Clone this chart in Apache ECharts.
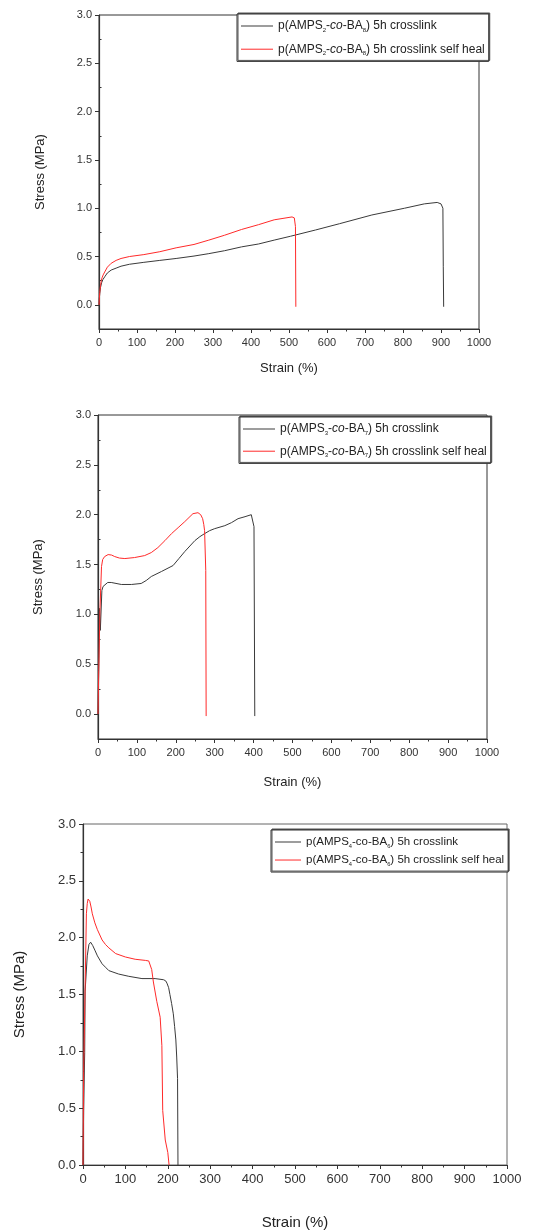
<!DOCTYPE html>
<html lang="en">
<head>
    <meta charset="utf-8">
    <title>Stress-strain curves</title>
    <script src="https://cdn.jsdelivr.net/npm/echarts@6/dist/echarts.min.js"></script>
    <style>
        html, body {margin: 0; padding: 0; background: #fff;}
        #main {width: 534px; height: 1231px;}
    </style>
</head>
<body>
<div id="main"></div>
<script>
    // 数据: [strain %, stress MPa]
    var p1Cross = [[0, 0], [1, 0.07], [2, 0.12], [4, 0.18], [7, 0.23], [10, 0.26], [15, 0.29], [22, 0.33], [32, 0.36],
        [45, 0.38], [58, 0.40], [80, 0.42], [118, 0.44], [160, 0.46], [203, 0.48], [250, 0.505], [289, 0.53],
        [330, 0.56], [375, 0.60], [420, 0.63], [461, 0.67], [504, 0.71], [570, 0.775], [633, 0.84], [718, 0.93],
        [804, 1.0], [856, 1.045], [890, 1.06], [900, 1.045], [905, 1.0], [906, 0.40], [907, -0.02]];
    var p1Heal = [[0, 0], [1, 0.07], [2, 0.13], [4, 0.2], [6, 0.25], [8, 0.28], [11, 0.31], [15, 0.34], [22, 0.39],
        [32, 0.43], [45, 0.46], [58, 0.48], [80, 0.50], [118, 0.52], [160, 0.55], [203, 0.59], [250, 0.625],
        [289, 0.67], [330, 0.72], [375, 0.78], [420, 0.83], [461, 0.88], [508, 0.91], [514, 0.90], [517, 0.81],
        [518, -0.02]];

    var p2Cross = [[0, 0], [2, 0.51], [4, 1.06], [6, 0.84], [10, 1.24], [13, 1.28], [17, 1.30], [25, 1.32], [34, 1.32],
        [60, 1.30], [86, 1.30], [111, 1.31], [124, 1.34], [137, 1.38], [163, 1.43], [193, 1.49], [208, 1.56],
        [223, 1.63], [249, 1.74], [262, 1.78], [274, 1.81], [287, 1.84], [300, 1.86], [326, 1.89], [343, 1.92],
        [360, 1.96], [378, 1.98], [394, 2.00], [398, 1.98], [401, 1.88], [403, -0.02]];
    var p2Heal = [[0, 0], [2, 0.44], [5, 1.04], [9, 1.48], [12, 1.55], [17, 1.58], [26, 1.60], [35, 1.595], [43, 1.58],
        [55, 1.565], [69, 1.56], [94, 1.57], [120, 1.59], [137, 1.62], [154, 1.67], [172, 1.74], [189, 1.81],
        [206, 1.87], [223, 1.93], [244, 2.01], [257, 2.02], [264, 2.00], [269, 1.96], [272, 1.90], [274, 1.84],
        [277, 1.44], [278, -0.02]];

    var p3Cross = [[0, 0], [1.5, 0.48], [4, 0.99], [5, 1.53], [10, 1.84], [14, 1.94], [18, 1.96], [20, 1.96], [23, 1.93],
        [28, 1.89], [34, 1.84], [45, 1.77], [53, 1.74], [61, 1.71], [84, 1.68], [108, 1.66], [139, 1.64], [170, 1.64],
        [190, 1.63], [195, 1.62], [198, 1.60], [202, 1.56], [205, 1.50], [209, 1.42], [213, 1.33], [216, 1.22],
        [219, 1.10], [221, 0.95], [223, 0.76], [224, 0.0]];
    var p3Heal = [[0, 0], [1.5, 0.82], [5, 1.56], [8, 2.21], [10, 2.30], [12, 2.34], [14, 2.34], [16, 2.32], [19, 2.27],
        [22, 2.21], [28, 2.13], [34, 2.07], [45, 1.98], [53, 1.94], [61, 1.91], [77, 1.86], [100, 1.83], [123, 1.81],
        [147, 1.80], [155, 1.795], [159, 1.78], [162, 1.72], [166, 1.61], [174, 1.44], [182, 1.30], [186, 1.05],
        [188, 0.48], [194, 0.22], [200, 0.11], [203, 0.0]];

    // 刻度
    var yMajorTicks = [0, 0.5, 1.0, 1.5, 2.0, 2.5, 3.0];
    var yMinorTicks = [0.25, 0.75, 1.25, 1.75, 2.25, 2.75];

    // 图例文字: [前缀, 下标1, 中间, 下标2, 后缀]
    var legend1 = [['p(AMPS', '2', 'BA', '8', ') 5h crosslink'], ['p(AMPS', '2', 'BA', '8', ') 5h crosslink self heal']];
    var legend2 = [['p(AMPS', '3', 'BA', '7', ') 5h crosslink'], ['p(AMPS', '3', 'BA', '7', ') 5h crosslink self heal']];
    var legend3 = [['p(AMPS', '4', 'BA', '6', ') 5h crosslink'], ['p(AMPS', '4', 'BA', '6', ') 5h crosslink self heal']];

    var FONT = 'Liberation Sans, Arial, sans-serif';
    var BLACK = '#3a3a3a', RED = '#ff2a2a';

    function legendName(parts, italic) {
        return parts[0] + parts[1] + '-co-' + parts[2] + parts[3] + parts[4] + (italic ? '' : ' ');
    }

    function legendText(parts, italic) {
        return '{t|' + parts[0] + '}{s|' + parts[1] + '}{t|-}{' + (italic ? 'i' : 't') + '|co}{t|-' + parts[2] +
            '}{s|' + parts[3] + '}{t|' + parts[4] + '}';
    }

    function makeLegend(parts, italic, pos, fs, gap, iw) {
        var names = [legendName(parts[0], italic), legendName(parts[1], italic)];
        return {
            data: names,
            orient: 'vertical',
            left: pos[0],
            top: pos[1],
            icon: 'rect',
            itemWidth: iw,
            itemHeight: 1,
            itemGap: gap,
            padding: [6, 4, 5, 4],
            selectedMode: false,
            borderColor: '#333',
            borderWidth: 1,
            backgroundColor: '#fff',
            shadowColor: '#555',
            shadowBlur: 0,
            shadowOffsetX: 1,
            shadowOffsetY: -1,
            formatter: function (name) {
                var i = names.indexOf(name);
                return legendText(parts[i], italic);
            },
            textStyle: {
                fontFamily: FONT,
                color: '#222',
                rich: {
                    t: {fontSize: fs, fontFamily: FONT, color: '#222'},
                    i: {fontSize: fs, fontFamily: FONT, color: '#222', fontStyle: 'italic'},
                    s: {fontSize: fs * 0.5, fontFamily: FONT, color: '#222', padding: [fs * 0.7, 0, 0, 0]}
                }
            }
        };
    }

    function plain(v) { return String(v); }

    function xAxis(grid, fs, nameFs, gap) {
        return {
            type: 'value', gridIndex: grid, min: 0, max: 1000, interval: 100,
            name: 'Strain (%)', nameLocation: 'middle', nameGap: gap,
            nameTextStyle: {fontFamily: FONT, fontSize: nameFs, color: '#222'},
            axisLine: {show: true, onZero: false, lineStyle: {color: '#333', width: 1.2}},
            axisTick: {show: true, length: 4, lineStyle: {color: '#333'}},
            minorTick: {show: true, splitNumber: 2, length: 2.5, lineStyle: {color: '#333'}},
            axisLabel: {fontFamily: FONT, fontSize: fs, color: '#333', margin: 8, formatter: plain},
            splitLine: {show: false}
        };
    }

    function yMajor(grid, min, fs, nameFs, gap) {
        return {
            type: 'value', gridIndex: grid, min: min, max: 3.0,
            name: 'Stress (MPa)', nameLocation: 'middle', nameGap: gap,
            nameTextStyle: {fontFamily: FONT, fontSize: nameFs, color: '#222'},
            axisLine: {show: true, onZero: false, lineStyle: {color: '#333', width: 1.2}},
            axisTick: {show: true, length: 4, customValues: yMajorTicks, lineStyle: {color: '#333'}},
            axisLabel: {
                fontFamily: FONT, fontSize: fs, color: '#333', margin: 7, customValues: yMajorTicks,
                formatter: function (v) { return v.toFixed(1); }
            },
            splitLine: {show: false}
        };
    }

    function yMinor(grid, min) {
        return {
            type: 'value', gridIndex: grid, min: min, max: 3.0,
            axisLine: {show: false},
            axisTick: {show: true, length: 2.5, customValues: yMinorTicks, lineStyle: {color: '#333'}},
            axisLabel: {show: false},
            splitLine: {show: false}
        };
    }

    function line(name, data, color, xi, yi) {
        return {
            name: name, type: 'line', data: data, xAxisIndex: xi, yAxisIndex: yi,
            symbol: 'none', smooth: false, color: color,
            lineStyle: {color: color, width: 1}, animation: false
        };
    }

    var chart = echarts.init(document.getElementById('main'), null, {renderer: 'canvas'});

    var gridStyle = {show: true, borderColor: '#333', borderWidth: 1, backgroundColor: 'transparent'};

    var option = {
        backgroundColor: '#fff',
        animation: false,
        grid: [
            Object.assign({left: 99, top: 15, width: 380, height: 314}, gridStyle),
            Object.assign({left: 98, top: 415, width: 389, height: 324}, gridStyle),
            Object.assign({left: 83, top: 824, width: 424, height: 344}, gridStyle, {borderColor: '#666'})
        ],
        xAxis: [
            xAxis(0, 11, 13, 33),
            xAxis(1, 11, 13, 37),
            xAxis(2, 13, 15, 50)
        ],
        yAxis: [
            yMajor(0, -0.25, 11, 13, 52),
            yMinor(0, -0.25),
            yMajor(1, -0.25, 11, 13, 53),
            yMinor(1, -0.25),
            {
                type: 'value', gridIndex: 2, min: 0, max: 3.0, interval: 0.5,
                name: 'Stress (MPa)', nameLocation: 'middle', nameGap: 56,
                nameTextStyle: {fontFamily: FONT, fontSize: 15, color: '#222'},
                axisLine: {show: true, lineStyle: {color: '#333', width: 1.2}},
                axisTick: {show: true, length: 4, lineStyle: {color: '#333'}},
                minorTick: {show: true, splitNumber: 2, length: 2.5, lineStyle: {color: '#333'}},
                axisLabel: {
                    fontFamily: FONT, fontSize: 13, color: '#333', margin: 7,
                    formatter: function (v) { return v.toFixed(1); }
                },
                splitLine: {show: false}
            }
        ],
        legend: [
            makeLegend(legend1, true, [237, 14], 12, 10, 32),
            makeLegend(legend2, true, [239, 417], 12, 9, 32),
            makeLegend(legend3, false, [271, 830], 11.5, 5, 26)
        ],
        series: [
            line(legendName(legend1[0], true), p1Cross, BLACK, 0, 0),
            line(legendName(legend1[1], true), p1Heal, RED, 0, 0),
            line(legendName(legend2[0], true), p2Cross, BLACK, 1, 2),
            line(legendName(legend2[1], true), p2Heal, RED, 1, 2),
            line(legendName(legend3[0], false), p3Cross, BLACK, 2, 4),
            line(legendName(legend3[1], false), p3Heal, RED, 2, 4)
        ]
    };

    chart.setOption(option);
</script>
</body>
</html>
